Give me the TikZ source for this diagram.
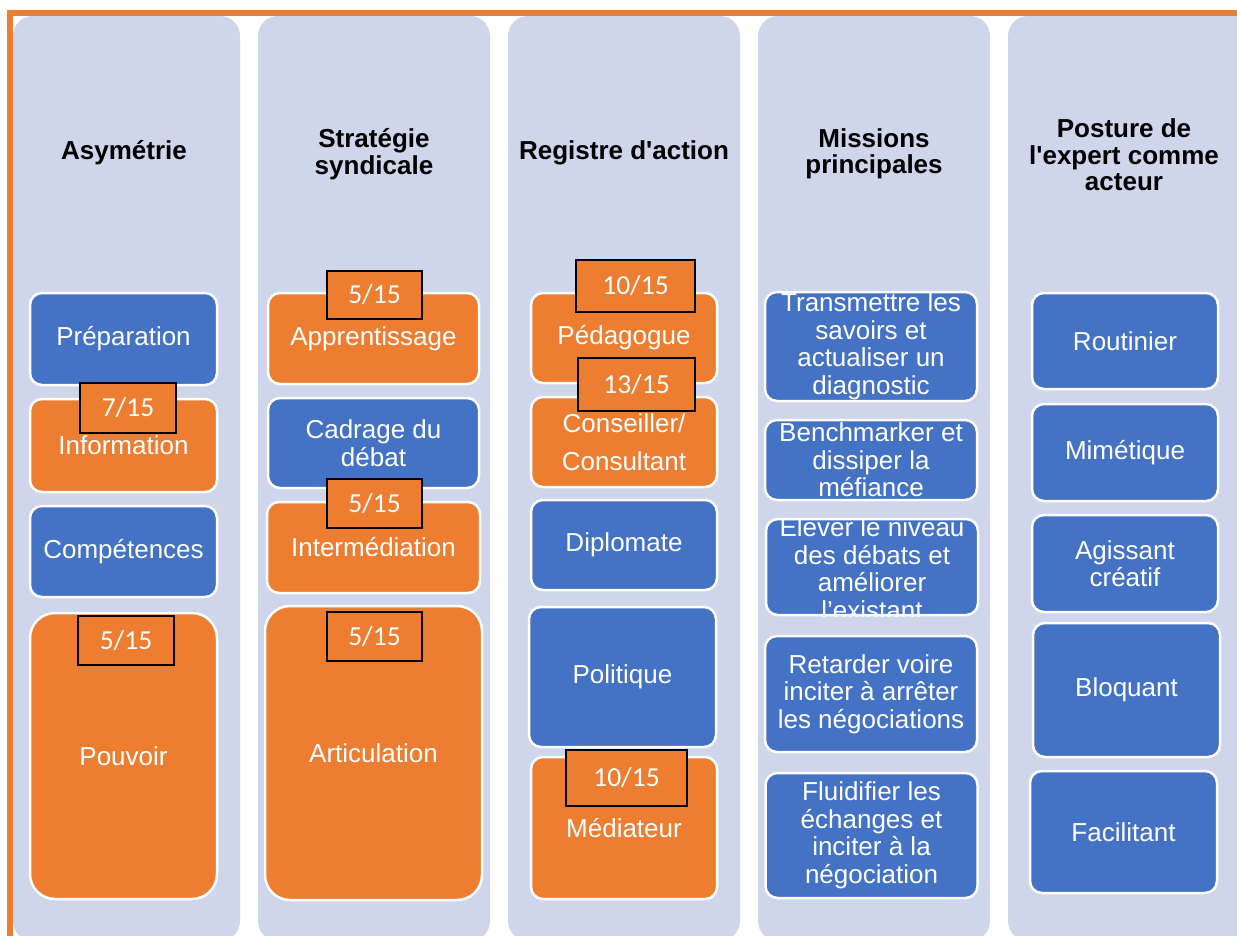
\documentclass[tikz,border=0pt]{standalone}
\usepackage{fontspec}
\setmainfont{Liberation Sans}[Ligatures=TeXOff]
\newfontfamily\scorefont{Carlito}
\definecolor{obg}{HTML}{ED7D31}
\definecolor{bbg}{HTML}{4472C4}
\definecolor{lav}{HTML}{CFD5EA}
\tikzset{
  colbg/.style={fill=lav, rounded corners=20pt},
  header/.style={font=\fontsize{26}{26.5}\selectfont\bfseries, align=center, text=black},
  wh/.style 2 args={minimum width=#1pt, minimum height=#2pt},
  boxbase/.style={draw=white, line width=2.5pt, rounded corners=12pt, text=white,
    font=\fontsize{26}{27.5}\selectfont, align=center, inner sep=0pt},
  bluebox/.style={boxbase, fill=bbg},
  orangebox/.style={boxbase, fill=obg},
  bigbox/.style={rounded corners=25pt},
  boxtext/.style={text=white, font=\fontsize{26}{27.5}\selectfont, align=center, inner sep=0pt},
  score/.style={draw=black, line width=2.2pt, fill=obg, text=white,
    font=\scorefont\fontsize{27.5}{27.5}\selectfont, inner sep=0pt},
}
\begin{document}
\begin{tikzpicture}[x=1pt, y=-1pt]
\useasboundingbox (0,0) rectangle (1237,936);
\clip (0,0) rectangle (1237,936);
% columns
\path[colbg] (13,16) rectangle (240,941);
\path[colbg] (258,16) rectangle (490,941);
\path[colbg] (508,16) rectangle (740,941);
\path[colbg] (758,16) rectangle (990,941);
\path[colbg] (1008,16) rectangle (1260,941);
% orange frame
\draw[obg, line width=6pt] (1245,13) -- (10,13) -- (10,950);
% headers
\node[header] (h1) at (124,153) {Asymétrie};
\node[header] (h2) at (374,154) {Stratégie\\syndicale};
\node[header] (h3) at (624,153) {Registre d'action};
\node[header] (h4) at (874,154) {Missions\\principales};
\node[header] (h5) at (1124,155) {Posture de\\l'expert comme\\acteur};
% column 1
\node[bluebox, wh={187}{92}] (prep) at (123.5,339) {Préparation};
\node[orangebox, wh={187}{93}] (info) at (123.5,445.5) {Information};
\node[bluebox, wh={187}{91}] (comp) at (123.5,551.5) {Compétences};
\node[orangebox, bigbox, wh={187}{286}] (pouv) at (123.5,756) {Pouvoir};
% column 2
\node[orangebox, wh={211}{91}] (appr) at (373.5,338.5) {Apprentissage};
\node[bluebox, wh={211}{90}] (cadr) at (373.5,443) {Cadrage du\\débat};
\node[orangebox, wh={213}{91}] (inter) at (373.5,547.5) {Intermédiation};
\node[orangebox, bigbox, wh={217}{294}] (artic) at (373.5,753) {Articulation};
% column 3
\node[orangebox, wh={186}{90}] (peda) at (624,338) {Pédagogue};
\node[orangebox, wh={186}{90}] (cons) at (624,442) {Conseiller/\\[10pt]Consultant};
\node[bluebox, wh={186}{90}] (dipl) at (624,545) {Diplomate};
\node[bluebox, wh={187}{140}] (poli) at (622.5,677) {Politique};
\node[orangebox, wh={186}{142}] (medi) at (624,828) {Médiateur};
% column 4
\node[bluebox, wh={212}{109}] (trans) at (871,346.5) {Transmettre les\\savoirs et\\actualiser un\\diagnostic};
\node[bluebox, wh={212}{80}] (bench) at (871,460) {Benchmarker et\\dissiper la\\méfiance};
\node[bluebox, wh={212}{96}] (elev) at (872,567) {};
\begin{scope}
  \clip[rounded corners=12pt] (elev.north west) rectangle (elev.south east);
  \node[boxtext] (elevt) at (elev.center) {Élever le niveau\\des débats et\\améliorer\\l’existant};
\end{scope}
\node[bluebox, wh={212}{116}] (ret) at (871,694) {Retarder voire\\inciter à arrêter\\les négociations};
\node[bluebox, wh={212}{125}] (flu) at (871.5,835.5) {Fluidifier les\\échanges et\\inciter à la\\négociation};
% column 5
\node[bluebox, wh={186}{96}] (rout) at (1125,341) {Routinier};
\node[bluebox, wh={186}{97}] (mime) at (1125,452.5) {Mimétique};
\node[bluebox, wh={186}{97}] (agis) at (1125,563.5) {Agissant\\créatif};
\node[bluebox, wh={187}{134}] (bloq) at (1126.5,690) {Bloquant};
\node[bluebox, wh={187}{122}] (faci) at (1123.5,832) {Facilitant};
% scores
\node[score, wh={96}{50}] (s1) at (128,408) {7/15};
\node[score, wh={96}{49}] (s2) at (126,640.5) {5/15};
\node[score, wh={95}{48}] (s3) at (374.5,295) {5/15};
\node[score, wh={95}{49}] (s4) at (374.5,503.5) {5/15};
\node[score, wh={95}{49}] (s5) at (374.5,636.5) {5/15};
\node[score, wh={119}{52}] (s6) at (635.5,286) {10/15};
\node[score, wh={117}{53}] (s7) at (636.5,384.5) {13/15};
\node[score, wh={121}{56}] (s8) at (626.5,778) {10/15};
\end{tikzpicture}
\end{document}
